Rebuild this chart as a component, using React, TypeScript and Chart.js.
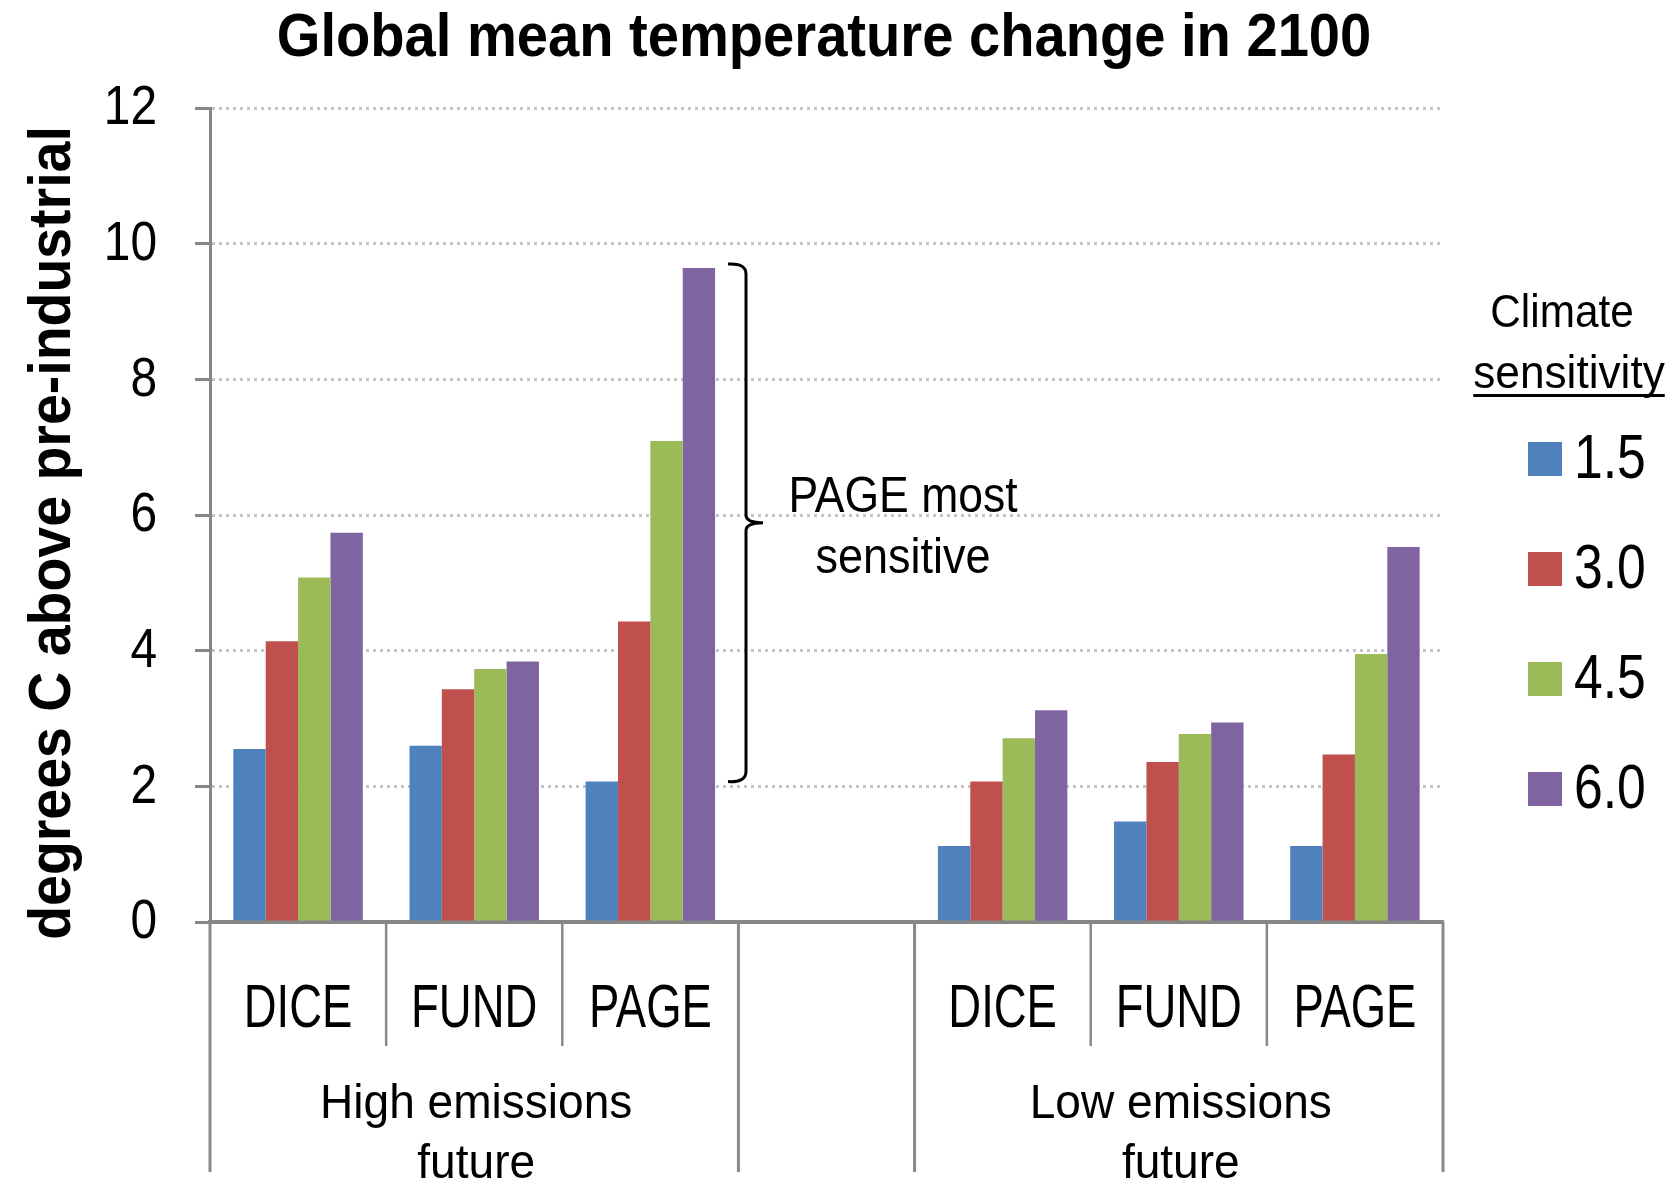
import React, { useEffect, useRef } from "react";
import { Chart, registerables } from "chart.js";
Chart.register(...registerables);

const chartTitle = "Global mean temperature change in 2100";
const yAxisTitle = "degrees C above pre-industrial";
const models = ["DICE", "FUND", "PAGE", "", "DICE", "FUND", "PAGE"];
const groupLabels = [["High emissions", "future"], ["Low emissions", "future"]];
const groupSpans = [[0, 2], [4, 6]];
const legendTitle = ["Climate", "sensitivity"];
const sensitivities = ["1.5", "3.0", "4.5", "6.0"];
const cs15 = [2.55, 2.6, 2.07, null, 1.12, 1.48, 1.12];
const cs30 = [4.14, 3.43, 4.43, null, 2.07, 2.36, 2.47];
const cs45 = [5.08, 3.73, 7.09, null, 2.71, 2.77, 3.95];
const cs60 = [5.74, 3.84, 9.64, null, 3.12, 2.94, 5.53];
const seriesValues = [cs15, cs30, cs45, cs60];
const colors = ["#4F81BD", "#C0504D", "#9BBB59", "#8064A2"];
const annotationText = ["PAGE most", "sensitive"];
const bracketRange = [2.07, 9.7];

const SANS = '"Liberation Sans", Arial, sans-serif';

function txt(ctx: any, s: string, x: number, y: number, font: string, sx: number, align: string, rot = 0) {
  ctx.save();
  ctx.font = font;
  ctx.textAlign = align;
  ctx.translate(x, y);
  if (rot) ctx.rotate(rot);
  ctx.scale(sx, 1);
  ctx.fillText(s, 0, 0);
  ctx.restore();
}

const overlay = {
  id: "overlay",
  afterDraw(chart: any) {
    const ctx = chart.ctx;
    const x = chart.scales.x;
    const y = chart.scales.y;
    ctx.save();
    ctx.fillStyle = "#000";
    ctx.textBaseline = "alphabetic";
    // title
    txt(ctx, chartTitle, 824, 56, `bold 62px ${SANS}`, 0.905, "center");
    // y title
    txt(ctx, yAxisTitle, 70, 533, `bold 59px ${SANS}`, 0.94, "center", -Math.PI / 2);

    // y tick labels
    ctx.textBaseline = "middle";
    y.ticks.forEach((t: any) => {
      txt(ctx, String(t.value), 157, y.getPixelForValue(t.value) + 1, `55px ${SANS}`, 0.87, "right");
    });
    ctx.textBaseline = "alphabetic";

    // x axis separators
    const base = y.getPixelForValue(0);
    const bounds: number[] = [];
    for (let i = 0; i <= models.length; i++) {
      if (i === 0) bounds.push(x.left);
      else if (i === models.length) bounds.push(x.right);
      else bounds.push((x.getPixelForValue(i - 1) + x.getPixelForValue(i)) / 2);
    }
    const longIdx = new Set<number>();
    groupSpans.forEach(([a, b]) => { longIdx.add(a); longIdx.add(b + 1); });
    ctx.strokeStyle = "#898989";
    bounds.forEach((bx, i) => {
      const isLong = longIdx.has(i);
      ctx.lineWidth = isLong ? 3 : 2.5;
      ctx.beginPath();
      ctx.moveTo(bx, base);
      ctx.lineTo(bx, isLong ? 1172 : 1046);
      ctx.stroke();
    });
    // category labels
    models.forEach((m, i) => {
      if (m) txt(ctx, m, x.getPixelForValue(i), 1027, `61px ${SANS}`, 0.745, "center");
    });
    // group labels
    groupSpans.forEach(([a, b], gi) => {
      const cx = (bounds[a] + bounds[b + 1]) / 2;
      groupLabels[gi].forEach((t, li) => txt(ctx, t, cx + 2, 1118 + li * 60, `49px ${SANS}`, 0.94, "center"));
    });

    // bracket
    const top = y.getPixelForValue(bracketRange[1]);
    const bot = y.getPixelForValue(bracketRange[0]);
    const mid = (top + bot) / 2;
    const x0 = 728, x1 = 746, x2 = 763;
    ctx.strokeStyle = "#000";
    ctx.lineWidth = 3;
    ctx.beginPath();
    ctx.moveTo(x0, top);
    ctx.quadraticCurveTo(x1, top - 1, x1, top + 10);
    ctx.lineTo(x1, mid - 8);
    ctx.quadraticCurveTo(x1, mid, x2, mid);
    ctx.quadraticCurveTo(x1, mid, x1, mid + 8);
    ctx.lineTo(x1, bot - 10);
    ctx.quadraticCurveTo(x1, bot + 1, x0, bot);
    ctx.stroke();
    txt(ctx, annotationText[0], 903, 512, `50px ${SANS}`, 0.89, "center");
    txt(ctx, annotationText[1], 903, 573, `50px ${SANS}`, 0.9, "center");

    // legend
    txt(ctx, legendTitle[0], 1562, 327, `47px ${SANS}`, 0.9, "center");
    txt(ctx, legendTitle[1], 1569, 388, `47px ${SANS}`, 0.94, "center");
    ctx.font = `47px ${SANS}`;
    const w = ctx.measureText(legendTitle[1]).width * 0.94;
    ctx.fillRect(1569 - w / 2, 394, w, 3);
    ctx.textBaseline = "middle";
    sensitivities.forEach((s, i) => {
      const cy = 459 + i * 110;
      ctx.fillStyle = colors[i];
      ctx.fillRect(1528, cy - 17, 34, 34);
      ctx.fillStyle = "#000";
      txt(ctx, s, 1574, cy + 2, `63px ${SANS}`, 0.82, "left");
    });
    ctx.restore();
  },
};

export default function App() {
  const ref = useRef<HTMLCanvasElement>(null);
  useEffect(() => {
    document.body.style.margin = "0";
    const chart = new Chart(ref.current!, {
      type: "bar",
      data: {
        labels: models,
        datasets: seriesValues.map((vals, i) => ({
          label: sensitivities[i],
          data: vals,
          backgroundColor: colors[i],
          borderWidth: 0,
          categoryPercentage: 0.735,
          barPercentage: 1,
        })),
      },
      options: {
        responsive: false,
        animation: false,
        devicePixelRatio: 1,
        layout: { padding: { top: 108, right: 226, left: 0, bottom: 0 } },
        plugins: { legend: { display: false }, title: { display: false }, tooltip: { enabled: false } },
        scales: {
          x: {
            afterFit: (s: any) => { s.height = 263; },
            ticks: { display: false },
            grid: { display: false },
            border: { display: true, color: "#868686", width: 4 },
          },
          y: {
            min: 0,
            max: 12,
            afterFit: (s: any) => { s.width = 210; },
            ticks: { stepSize: 2, display: false },
            grid: { color: "#c4c4c4", lineWidth: 3, tickLength: 15, tickColor: "#868686", tickWidth: 3, drawTicks: true },
            border: { display: true, color: "#868686", width: 3, dash: [3, 4] },
          },
        },
      },
      plugins: [overlay],
    } as any);
    return () => chart.destroy();
  }, []);
  return <canvas ref={ref} width={1669} height={1185} style={{ display: "block" }} />;
}
